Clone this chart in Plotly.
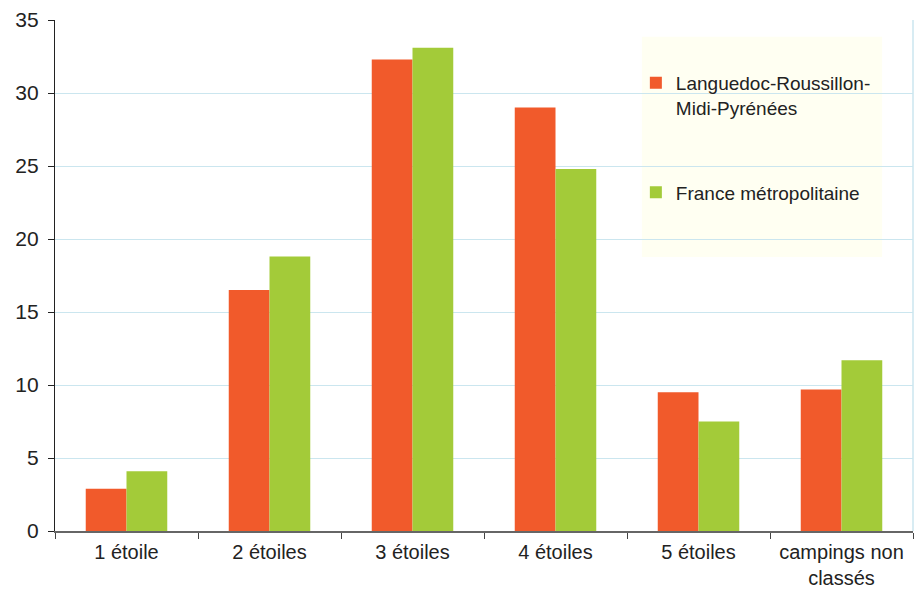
import plotly.graph_objects as go

categories = ["1 étoile", "2 étoiles", "3 étoiles", "4 étoiles", "5 étoiles", "campings non<br>classés"]
lrmp = [2.9, 16.5, 32.3, 29.0, 9.5, 9.7]
france = [4.1, 18.8, 33.1, 24.8, 7.5, 11.7]
series_names = ["Languedoc-Roussillon-<br>Midi-Pyrénées", "France métropolitaine"]
y_ticks = [0, 5, 10, 15, 20, 25, 30, 35]

RED = "#F15A2B"
GREEN = "#A3CB39"
FONT = "Liberation Sans, Arial, sans-serif"

fig = go.Figure()
fig.add_trace(go.Bar(x=categories, y=lrmp, name=series_names[0], marker_color=RED,
                     marker_line_width=0, legendgroup="a"))
fig.add_trace(go.Bar(x=categories, y=france, name=series_names[1], marker_color=GREEN,
                     marker_line_width=0, legendgroup="b"))

fig.update_layout(
    width=922, height=589,
    margin=dict(l=47, r=17, t=12, b=66, autoexpand=False),
    paper_bgcolor="white", plot_bgcolor="white",
    font=dict(family=FONT, size=20, color="#222222"),
    barmode="group", bargap=0.43, bargroupgap=0,
    showlegend=True,
    legend=dict(x=0.677, y=0.914, xanchor="left", yanchor="top",
                bgcolor="rgba(0,0,0,0)", font=dict(size=19, family=FONT, color="#222222"),
                tracegroupgap=57, itemwidth=30, traceorder="grouped", valign="top"),
    shapes=[
        dict(type="rect", xref="paper", yref="paper", x0=0.684, x1=0.964, y0=0.536, y1=0.967,
             fillcolor="#FFFFF2", line_width=0, layer="below"),
        dict(type="line", xref="paper", yref="paper", x0=1, x1=1, y0=0, y1=1,
             line=dict(color="#CBE6EF", width=1.5)),
    ],
    xaxis=dict(showgrid=False, ticks="outside", ticklen=6, tickcolor="#444444",
               tickson="boundaries", showline=True, linecolor="#666666", linewidth=1.5,
               automargin=False, ticklabelstandoff=2,
               tickfont=dict(size=20, family=FONT, color="#222222")),
    yaxis=dict(range=[0, 35], tickvals=y_ticks, showgrid=True, gridcolor="#CBE6EF",
               gridwidth=1, showline=True, linecolor="#222222", linewidth=1.2,
               ticks="outside", ticklen=6, tickcolor="#222222", zeroline=False,
               automargin=False, ticklabelstandoff=5,
               tickfont=dict(size=21, family=FONT, color="#222222")),
)

fig.write_html("out.html")
